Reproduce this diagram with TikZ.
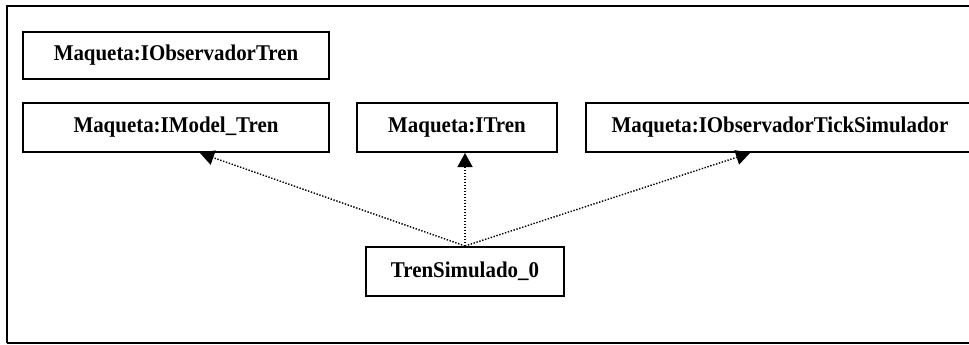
\documentclass[tikz,border=0pt]{standalone}
\usepackage{fontspec}
\setmainfont{Liberation Serif}
\newfontfamily\boxfont{Liberation Serif}[FakeStretch=0.93]
\usetikzlibrary{arrows.meta}
\begin{document}
\begin{tikzpicture}[x=1pt,y=-1pt,
  classbox/.style={draw=black,line width=2pt,fill=white,inner sep=0pt,
    font=\boxfont\bfseries\fontsize{22.5}{26}\selectfont},
  realizes/.style={line width=1.4pt,dash pattern=on 1.4pt off 1.6pt,
    -{Triangle[length=14pt,width=15pt]}}]
  % page area
  \clip (0,0) rectangle (969,345);
  \fill[white] (0,0) rectangle (969,345);
  % enclosing frame (its right side lies past the page edge)
  \draw[line width=2pt] (7,343) -- (7,6) -- (990,6);
  \draw[line width=2pt] (7,343) -- (990,343);

  % interface boxes
  \node[classbox,minimum width=306pt,minimum height=47pt] (obs) at (176,55.5) {Maqueta:IObservadorTren};
  \node[classbox,minimum width=306pt,minimum height=49pt] (model) at (176,127.5) {Maqueta:IModel\_Tren};
  \node[classbox,minimum width=200pt,minimum height=49pt] (itren) at (457,127.5) {Maqueta:ITren};
  \node[classbox,minimum width=388pt,minimum height=49pt] (tick) at (780,127.5) {Maqueta:IObservadorTickSimulador};

  % implementing class
  \node[classbox,minimum width=198pt,minimum height=49pt] (sim) at (465,271.5) {TrenSimulado\_0};

  % realization connectors
  \draw[realizes] (sim.north) -- ([xshift=24pt]model.south);
  \draw[realizes] (sim.north) -- (sim.north |- itren.south);
  \draw[realizes] (sim.north) -- ([xshift=-30pt]tick.south);
\end{tikzpicture}
\end{document}
